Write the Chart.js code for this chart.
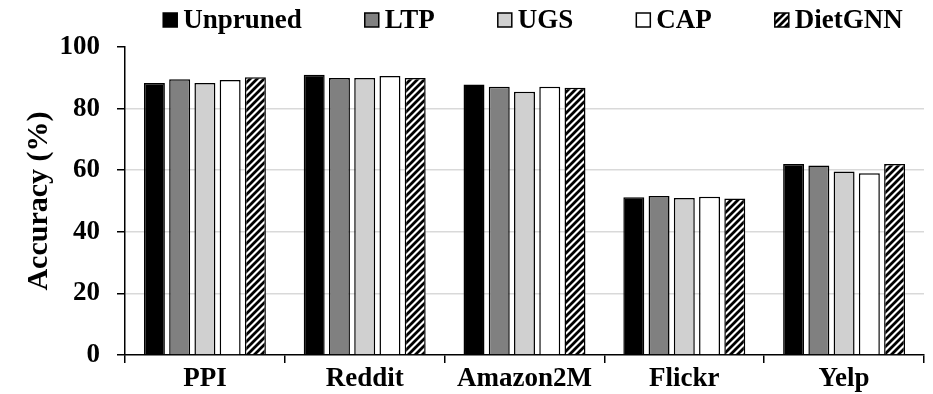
<!DOCTYPE html>
<html>
<head>
<meta charset="utf-8">
<script src="https://cdn.jsdelivr.net/npm/chart.js@4.4.1/dist/chart.umd.min.js"></script>
<style>
  html, body { margin: 0; padding: 0; background: #fff; }
  #wrap { width: 933px; height: 394px; }
</style>
</head>
<body>
<div id="wrap"><canvas id="chart" width="933" height="394"></canvas></div>
<script>
// data
const datasets = ['PPI', 'Reddit', 'Amazon2M', 'Flickr', 'Yelp'];
const unpruned = [88.3, 91.0, 87.8, 51.2, 62.0];
const ltp      = [89.5, 89.9, 87.1, 51.6, 61.5];
const ugs      = [88.3, 89.9, 85.5, 51.0, 59.6];
const cap      = [89.3, 90.6, 87.1, 51.4, 59.0];
const dietgnn  = [90.2, 89.9, 86.8, 50.8, 62.0];
const yTicks = [0, 20, 40, 60, 80, 100];

const FONT = '"Liberation Serif", "Times New Roman", serif';

// diagonal hatch for DietGNN
function makeHatch() {
    const n = 7;
    const c = document.createElement('canvas');
    c.width = n; c.height = n;
    const g = c.getContext('2d');
    g.fillStyle = '#fff';
    g.fillRect(0, 0, n, n);
    g.strokeStyle = '#000';
    g.lineWidth = 2.8;
    g.beginPath();
    for (const k of [-n, 0, n]) {
        g.moveTo(k - 1, n + 1);
        g.lineTo(k + n + 1, -1);
    }
    g.stroke();
    return g.createPattern(c, 'repeat');
}
const hatch = makeHatch();

function series(label, data, fill) {
    return {
        label: label,
        data: data,
        backgroundColor: fill,
        borderColor: '#000',
        borderWidth: 1.5,
        borderSkipped: 'bottom'
    };
}

// legend drawn by hand so the box sits close to its text like the original
const legendPlugin = {
    id: 'tightLegend',
    afterDraw(chart) {
        const ctx = chart.ctx;
        const box = 14, gap = 6, itemGap = 63, cy = 20;
        ctx.save();
        ctx.font = 'bold 27px ' + FONT;
        const items = chart.data.datasets.map(d => ({
            text: d.label,
            fill: d.backgroundColor,
            w: ctx.measureText(d.label).width
        }));
        const total = items.reduce((s, it) => s + box + gap + it.w, 0) + itemGap * (items.length - 1);
        let x = 533 - total / 2;
        items.forEach(it => {
            ctx.fillStyle = it.fill;
            ctx.fillRect(x, cy - box / 2, box, box);
            ctx.strokeStyle = '#000';
            ctx.lineWidth = 1.5;
            ctx.strokeRect(x, cy - box / 2, box, box);
            ctx.fillStyle = '#000';
            ctx.textBaseline = 'middle';
            ctx.textAlign = 'left';
            ctx.fillText(it.text, x + box + gap, cy + 1);
            x += box + gap + it.w + itemGap;
        });
        ctx.restore();
    }
};

new Chart(document.getElementById('chart'), {
    type: 'bar',
    data: {
        labels: datasets,
        datasets: [
            series('Unpruned', unpruned, '#000'),
            series('LTP', ltp, '#808080'),
            series('UGS', ugs, '#d0d0d0'),
            series('CAP', cap, '#fff'),
            series('DietGNN', dietgnn, hatch)
        ]
    },
    plugins: [legendPlugin],
    options: {
        responsive: false,
        animation: false,
        layout: { padding: { left: 0, right: 9, top: 47, bottom: 0 } },
        datasets: { bar: { categoryPercentage: 0.79, barPercentage: 0.83 } },
        plugins: {
            tooltip: { enabled: false },
            legend: { display: false }
        },
        scales: {
            x: {
                offset: true,
                border: { display: true, color: '#000', width: 1.5 },
                grid: {
                    offset: true,
                    drawOnChartArea: false,
                    drawTicks: true,
                    tickLength: 8,
                    tickColor: '#000',
                    lineWidth: 1.5
                },
                ticks: {
                    color: '#000',
                    padding: 0,
                    font: { family: FONT, size: 27, weight: 'bold' }
                },
                afterFit: s => { s.height = 39; }
            },
            y: {
                min: 0,
                max: 100,
                afterBuildTicks: s => { s.ticks = yTicks.map(v => ({ value: v })); },
                border: { display: true, color: '#000', width: 1.5 },
                grid: {
                    color: ctx => (ctx.tick && (ctx.tick.value === 0 || ctx.tick.value === 100)) ? 'rgba(0,0,0,0)' : '#d9d9d9',
                    lineWidth: 1.5,
                    tickLength: 8,
                    tickColor: '#000'
                },
                ticks: {
                    color: '#000',
                    padding: 17,
                    font: { family: FONT, size: 27, weight: 'bold' }
                },
                title: {
                    display: true,
                    text: 'Accuracy (%)',
                    color: '#000',
                    padding: { top: 21, bottom: 0 },
                    font: { family: FONT, size: 30, weight: 'bold' }
                },
                afterFit: s => { s.width = 125; }
            }
        }
    }
});
</script>
</body>
</html>
